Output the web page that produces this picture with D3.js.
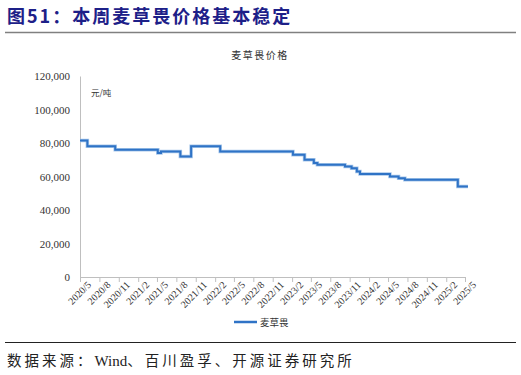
<!DOCTYPE html>
<html>
<head>
<meta charset="utf-8">
<script src="https://cdn.jsdelivr.net/npm/d3@7"></script>
<style>
  body { margin: 0; background: #fff; }
  svg { display: block; }
</style>
</head>
<body>
<svg id="chart"></svg>
<script>
const width = 521, height = 375;
const margin = { top: 76, right: 56, bottom: 98, left: 80 };

// step points of the price series (date the price changed, 元/吨)
const stepDates = [
    "2020-05-01", "2020-06-05", "2020-10-15", "2021-05-05", "2021-05-20",
    "2021-08-20", "2021-10-10", "2022-02-25", "2023-02-05", "2023-04-01",
    "2023-05-15", "2023-06-01", "2023-10-10", "2023-11-10", "2023-12-05",
    "2023-12-20", "2024-05-10", "2024-06-20", "2024-07-20", "2025-03-28",
    "2025-05-15"
];
const prices = [
    81500, 78000, 76000, 74000, 75000,
    72000, 78000, 75000, 73000, 70000,
    68000, 67000, 66000, 65000, 63000,
    61500, 60000, 59000, 58000, 54000,
    54000
];
const yTicks = [0, 20000, 40000, 60000, 80000, 100000, 120000];
const xTickLabels = [
    "2020/5", "2020/8", "2020/11", "2021/2", "2021/5", "2021/8", "2021/11",
    "2022/2", "2022/5", "2022/8", "2022/11", "2023/2", "2023/5", "2023/8",
    "2023/11", "2024/2", "2024/5", "2024/8", "2024/11", "2025/2", "2025/5"
];
const seriesName = "麦草畏";

const parse = d3.timeParse("%Y-%m-%d");
const data = stepDates.map((d, i) => ({ date: parse(d), value: prices[i] }));
const tickDates = xTickLabels.map(s => {
    const [y, m] = s.split("/");
    return new Date(+y, +m - 1, 1);
});

const cjk = "'Noto Sans CJK SC', sans-serif";
const serif = "'Liberation Serif', 'DejaVu Serif', serif";

const svg = d3.select("#chart")
    .attr("width", width)
    .attr("height", height);

// header
svg.append("text")
    .attr("x", 7)
    .attr("y", 23)
    .style("font-family", cjk)
    .style("font-weight", "bold")
    .style("font-size", "18px")
    .style("letter-spacing", "2px")
    .attr("fill", "#1d2088")
    .text("图51：本周麦草畏价格基本稳定");

svg.append("line")
    .attr("x1", 5).attr("x2", 516)
    .attr("y1", 32.5).attr("y2", 32.5)
    .attr("stroke", "#808080")
    .attr("stroke-width", 1.5);

// footer
svg.append("line")
    .attr("x1", 5).attr("x2", 516)
    .attr("y1", 342.5).attr("y2", 342.5)
    .attr("stroke", "#222")
    .attr("stroke-width", 1);

const source = svg.append("text")
    .attr("x", 7)
    .attr("y", 366)
    .style("font-family", cjk)
    .style("font-size", "14.5px")
    .attr("fill", "#222");
source.append("tspan").style("letter-spacing", "3px").text("数据来源：");
source.append("tspan").style("font-family", serif).style("font-size", "15px").text("Wind");
source.append("tspan").style("letter-spacing", "3px").text("、百川盈孚、开源证券研究所");

const xScale = d3.scaleTime()
    .domain([tickDates[0], tickDates[tickDates.length - 1]])
    .range([margin.left, width - margin.right]);

const yScale = d3.scaleLinear()
    .domain([0, 120000])
    .range([height - margin.bottom, margin.top]);

// chart title
svg.append("text")
    .attr("x", 260)
    .attr("y", 59)
    .attr("text-anchor", "middle")
    .style("font-family", cjk)
    .style("font-size", "10px")
    .style("letter-spacing", "1.5px")
    .attr("fill", "#333")
    .text("麦草畏价格");

svg.append("text")
    .attr("x", 91)
    .attr("y", 96)
    .style("font-family", cjk)
    .style("font-size", "8.5px")
    .attr("fill", "#333")
    .text("元/吨");

// y axis
const yAxis = svg.append("g")
    .attr("transform", `translate(${margin.left},0)`)
    .call(d3.axisLeft(yScale).tickValues(yTicks).tickSize(0).tickPadding(10)
        .tickFormat(d3.format(",")));
yAxis.select(".domain").attr("stroke", "#bfbfbf");
yAxis.selectAll("text")
    .style("font-family", serif)
    .style("font-size", "11px")
    .attr("fill", "#333");

// x axis
const xAxis = svg.append("g")
    .attr("transform", `translate(0,${height - margin.bottom})`)
    .call(d3.axisBottom(xScale).tickValues(tickDates).tickSize(5)
        .tickFormat((d, i) => xTickLabels[i]));
xAxis.select(".domain").attr("stroke", "#bfbfbf");
xAxis.selectAll(".tick line").attr("stroke", "#bfbfbf");
xAxis.selectAll("text")
    .style("font-family", serif)
    .style("font-size", "10px")
    .attr("fill", "#333")
    .attr("text-anchor", "end")
    .attr("dx", "0.2em")
    .attr("dy", "0.6em")
    .attr("transform", "rotate(-45)");

// series
const line = d3.line()
    .x(d => xScale(d.date))
    .y(d => yScale(d.value))
    .curve(d3.curveStepAfter);

svg.append("path")
    .datum(data)
    .attr("fill", "none")
    .attr("stroke", "#a9c8ea")
    .attr("stroke-width", 3.5)
    .attr("d", line);

svg.append("path")
    .datum(data)
    .attr("fill", "none")
    .attr("stroke", "#2f73c6")
    .attr("stroke-width", 2)
    .attr("d", line);

// legend
const legend = svg.append("g").attr("transform", "translate(234,322)");
legend.append("line")
    .attr("x1", 0).attr("x2", 23)
    .attr("stroke", "#2f73c6")
    .attr("stroke-width", 2.5);
legend.append("text")
    .attr("x", 26)
    .attr("y", 3.5)
    .style("font-family", cjk)
    .style("font-size", "9.5px")
    .attr("fill", "#333")
    .text(seriesName);
</script>
</body>
</html>
